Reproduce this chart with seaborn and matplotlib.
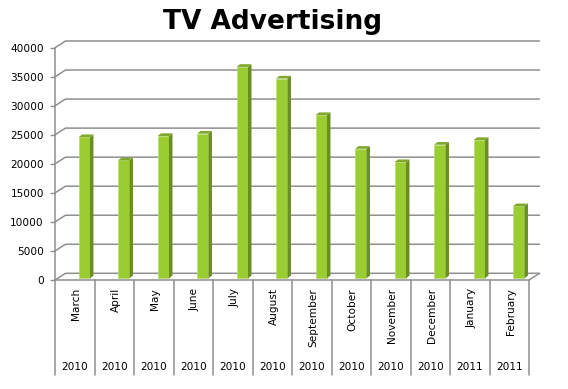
import pandas as pd
import seaborn as sns
import matplotlib.pyplot as plt
from matplotlib.patches import Polygon
from matplotlib.transforms import offset_copy

months = ["March", "April", "May", "June", "July", "August", "September",
          "October", "November", "December", "January", "February"]
years = ["2010"] * 10 + ["2011"] * 2
spend = [24300, 20300, 24500, 24900, 36400, 34400, 28100, 22300, 20000, 23000, 23800, 12400]
y_ticks = [0, 5000, 10000, 15000, 20000, 25000, 30000, 35000, 40000]

df = pd.DataFrame({"month": months, "year": years, "spend": spend})

sns.set_style("white")
plt.rcParams["font.family"] = ["DejaVu Sans"]
plt.rcParams["text.color"] = "black"
plt.rcParams["ytick.labelcolor"] = "black"

W, H = 568, 389
fig = plt.figure(figsize=(W / 100, H / 100), dpi=100)
# front plane of the 3d box, in pixels
left, right, bottom, top = 55, 529, 280, 47.7
ax = fig.add_axes([left / W, 1 - bottom / H, (right - left) / W, (bottom - top) / H])

sns.barplot(data=df, x="month", y="spend", color="#9ACD32", saturation=1,
            width=0.29, ax=ax, zorder=3)
ax.set_xlim(-0.5, 11.5)
ax.set_ylim(0, 40000)
ax.set_xlabel("")
ax.set_ylabel("")

px_x = (right - left) / 12
px_y = (bottom - top) / 40000
# depth of the back wall and of the bars
DX, DY = 10.5 / px_x, 6.7 / px_y
bdx, bdy = 9.5 / px_x, 1.7 / px_y
sdx, sdy = 3.5 / px_x, 2.7 / px_y

grid_col = "#8f8f8f"
for t in y_ticks:
    ax.plot([-0.5, -0.5 + DX, 11.5 + DX], [t, t + DY, t + DY], color=grid_col,
            lw=1.1, zorder=1, clip_on=False)
ax.plot([11.5, 11.5 + DX], [0, DY], color=grid_col, lw=1.1, zorder=1, clip_on=False)

for p in ax.patches:
    p.set_x(p.get_x() + bdx)
    p.set_y(bdy)
    p.set_edgecolor("#b5dc6a")
    p.set_linewidth(0.4)
    x0, w, h = p.get_x(), p.get_width(), p.get_height()
    x1, y1 = x0 + w, bdy + h
    side = Polygon([(x1, bdy), (x1, y1), (x1 + sdx, y1 + sdy), (x1 + sdx, bdy + sdy)],
                   closed=True, facecolor="#6B8E23", edgecolor="none", zorder=3)
    topf = Polygon([(x0, y1), (x1, y1), (x1 + sdx, y1 + sdy), (x0 + sdx, y1 + sdy)],
                   closed=True, facecolor="#7FA82C", edgecolor="none", zorder=3)
    ax.add_patch(side)
    ax.add_patch(topf)

for s in ["top", "right"]:
    ax.spines[s].set_visible(False)
for s in ["left", "bottom"]:
    ax.spines[s].set_color(grid_col)
    ax.spines[s].set_linewidth(1.1)

ax.set_yticks(y_ticks)
ax.set_yticklabels([str(t) for t in y_ticks], fontsize=7.6, color="black")
ax.tick_params(axis="y", length=3.5, width=1, color=grid_col, pad=4.5, left=True)
ax.set_xticks([])

xt = ax.get_xaxis_transform()
month_tr = offset_copy(xt, fig, x=1.5, y=-8, units="dots")
year_tr = offset_copy(xt, fig, x=0, y=-86.7, units="dots")
for i, (m, yr) in enumerate(zip(months, years)):
    ax.text(i, 0, m, rotation=90, ha="center", va="top", fontsize=7.6,
            color="black", transform=month_tr)
    ax.text(i, 0, yr, ha="center", va="center", fontsize=7.6, color="black",
            transform=year_tr)
for k in range(13):
    ax.plot([k - 0.5, k - 0.5], [0, -95 / (bottom - top)], transform=xt,
            color=grid_col, lw=1.1, clip_on=False)

fig.text(273 / W, 1 - 22 / H, "TV Advertising", ha="center", va="center",
         fontsize=19, fontweight="bold", color="black")

plt.savefig("out.png", dpi=100)
